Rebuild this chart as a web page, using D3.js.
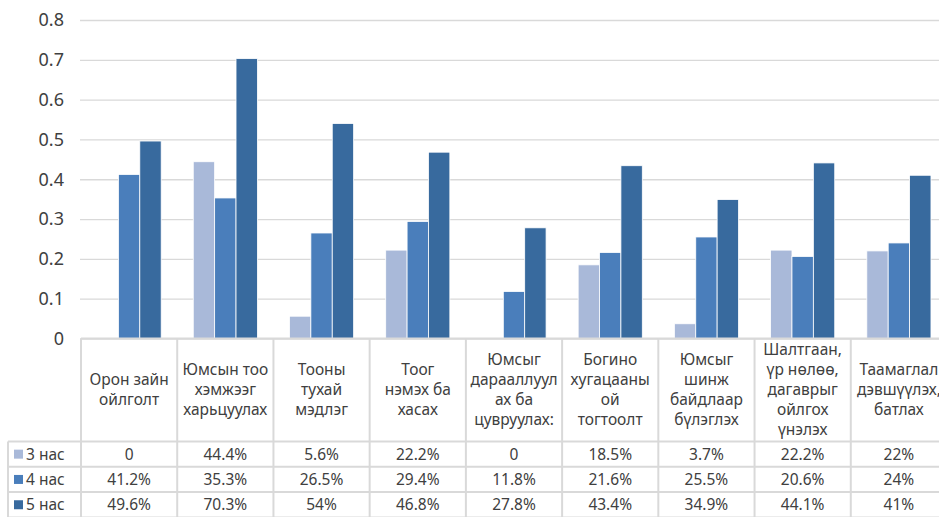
<!DOCTYPE html>
<html>
<head>
<meta charset="utf-8">
<script src="https://cdn.jsdelivr.net/npm/d3@7"></script>
<style>
    body { margin: 0; background: #fff; }
    svg { display: block; font-family: "Noto Sans", "Open Sans", sans-serif; }
</style>
</head>
<body>
<div id="chart"></div>
<script>
// Ангилал (хүснэгтийн толгойд мөр мөрөөр нь)
const categories = [
    ["Орон зайн", "ойлголт"],
    ["Юмсын тоо", "хэмжээг", "харьцуулах"],
    ["Тооны", "тухай", "мэдлэг"],
    ["Тоог", "нэмэх ба", "хасах"],
    ["Юмсыг", "дарааллуул", "ах ба", "цувруулах:"],
    ["Богино", "хугацааны", "ой", "тогтоолт"],
    ["Юмсыг", "шинж", "байдлаар", "бүлэглэх"],
    ["Шалтгаан,", "үр нөлөө,", "дагаврыг", "ойлгох", "үнэлэх"],
    ["Таамаглал", "дэвшүүлэх,", "батлах"]
]
const seriesNames = ["3 нас", "4 нас", "5 нас"]
const age3 = [0, 0.444, 0.056, 0.222, 0, 0.185, 0.037, 0.222, 0.22]
const age4 = [0.412, 0.353, 0.265, 0.294, 0.118, 0.216, 0.255, 0.206, 0.24]
const age5 = [0.496, 0.703, 0.54, 0.468, 0.278, 0.434, 0.349, 0.441, 0.41]
const yTicks = [0, 0.1, 0.2, 0.3, 0.4, 0.5, 0.6, 0.7, 0.8]

const seriesValues = [age3, age4, age5]
const colors = ["#a9b9d9", "#4a7ebb", "#386a9e"]
const textColor = "#404040"
const lineColor = "#d9d9d9"

const W = 939, H = 517
const plotLeft = 81, plotRight = 947      // баруун тал нь зурагнаас гадуур тасардаг
const plotTop = 20, zeroY = 338.5
const rowTop = 441.5, rowH = 25.3, legendLeft = 8

const svg = d3.select("#chart").append("svg")
    .attr("width", W)
    .attr("height", H)

const catIndex = categories.map((_, i) => i)
const x = d3.scaleBand()
    .domain(catIndex)
    .range([plotLeft, plotRight])
    .paddingInner(1 / 3)
    .paddingOuter(1 / 6)
const xs = d3.scaleBand()
    .domain(d3.range(seriesNames.length))
    .range([0, x.bandwidth()])
const y = d3.scaleLinear()
    .domain([0, 0.8])
    .range([zeroY, plotTop])

// тэнхлэг ба тор
const yAxis = svg.append("g")
    .attr("transform", `translate(${plotLeft - 1},0)`)
    .call(d3.axisLeft(y)
        .tickValues(yTicks)
        .tickSize(-(plotRight - plotLeft + 1))
        .tickPadding(16)
        .tickFormat(d => String(+d.toFixed(1))))
yAxis.select(".domain").remove()
yAxis.selectAll("line")
    .attr("stroke", lineColor)
    .attr("stroke-width", 1.3)
yAxis.selectAll("text")
    .attr("fill", textColor)
    .attr("font-size", 18)
    .attr("font-family", "\"Noto Sans\", sans-serif")

// баганууд
const groups = svg.append("g")
    .selectAll("g")
    .data(catIndex)
    .enter().append("g")
    .attr("transform", i => `translate(${x(i)},0)`)
groups.selectAll("rect")
    .data(i => seriesValues.map((s, k) => ({k: k, v: s[i]})))
    .enter().append("rect")
    .attr("x", d => xs(d.k))
    .attr("width", xs.bandwidth())
    .attr("y", d => y(d.v))
    .attr("height", d => y(0) - y(d.v))
    .attr("fill", d => colors[d.k])
    .attr("stroke", d => d.v > 0 ? "#fff" : "none")
    .attr("stroke-width", 0.8)

// өгөгдлийн хүснэгт
const table = svg.append("g")
const step = x.step()
const colEdges = catIndex.map(i => plotLeft + i * step).concat([plotRight])
const tableBottom = rowTop + seriesNames.length * rowH

table.append("line")
    .attr("x1", plotLeft).attr("x2", plotRight)
    .attr("y1", zeroY).attr("y2", zeroY)
    .attr("stroke", lineColor).attr("stroke-width", 2)
d3.range(seriesNames.length + 1).forEach(r => {
    table.append("line")
        .attr("x1", legendLeft).attr("x2", plotRight)
        .attr("y1", rowTop + r * rowH).attr("y2", rowTop + r * rowH)
        .attr("stroke", lineColor).attr("stroke-width", 2)
})
table.selectAll(".col")
    .data(colEdges)
    .enter().append("line")
    .attr("x1", d => d).attr("x2", d => d)
    .attr("y1", zeroY).attr("y2", tableBottom)
    .attr("stroke", lineColor).attr("stroke-width", 2)
table.append("line")
    .attr("x1", legendLeft).attr("x2", legendLeft)
    .attr("y1", rowTop).attr("y2", tableBottom)
    .attr("stroke", lineColor).attr("stroke-width", 2)

// толгойн бичвэр
const lineH = 20
const headY = (zeroY + rowTop) / 2
categories.forEach((lines, i) => {
    const t = table.append("text")
        .attr("text-anchor", "middle")
        .attr("fill", textColor)
        .attr("font-size", 15.5)
    lines.forEach((s, j) => {
        t.append("tspan")
            .attr("x", x(i) + x.bandwidth() / 2)
            .attr("y", headY + (j - (lines.length - 1) / 2) * lineH)
            .attr("dy", "0.35em")
            .text(s)
    })
})

// мөр бүр: тайлбар ба утгууд
const fmt = v => v === 0 ? "0" : d3.format(".1~%")(v)
seriesNames.forEach((name, k) => {
    const cy = rowTop + k * rowH + rowH / 2
    table.append("rect")
        .attr("x", 14).attr("y", cy - 4.5)
        .attr("width", 9).attr("height", 9)
        .attr("fill", colors[k])
    table.append("text")
        .attr("x", 26).attr("y", cy)
        .attr("dy", "0.35em")
        .attr("fill", textColor)
        .attr("font-size", 15.5)
        .text(name)
    table.selectAll(".v" + k)
        .data(seriesValues[k])
        .enter().append("text")
        .attr("x", (d, i) => x(i) + x.bandwidth() / 2)
        .attr("y", cy)
        .attr("dy", "0.35em")
        .attr("text-anchor", "middle")
        .attr("fill", textColor)
        .attr("font-size", 15.5)
        .text(d => fmt(d))
})
</script>
</body>
</html>
